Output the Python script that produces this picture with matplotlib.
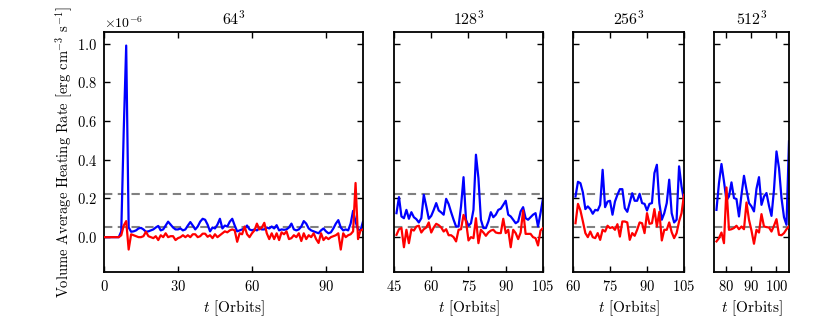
import numpy as np
import matplotlib
matplotlib.use("Agg")
import matplotlib.pyplot as plt

# heating rates in units of 1e-6 erg cm^-3 s^-1, sampled once per orbit
titles = ["$64^3$", "$128^3$", "$256^3$", "$512^3$"]
xlims = [(0, 105), (45, 105), (60, 105), (75, 105)]
xticks = [[0, 30, 60, 90], [45, 60, 75, 90, 105], [60, 75, 90, 105], [80, 90, 100]]
t_start = [0, 46, 61, 76]
ref_levels = [0.225, 0.05]

blue_64 = [0, 0, 0, 0, 0, 0, 0, 0.03, 0.55, 0.99,
           0.05, 0.028, 0.03, 0.035, 0.045, 0.048, 0.04, 0.028, 0.03, 0.035,
           0.04, 0.05, 0.058, 0.035, 0.04, 0.06, 0.08, 0.065, 0.05, 0.04,
           0.04, 0.045, 0.035, 0.04, 0.06, 0.078, 0.06, 0.04, 0.055, 0.08,
           0.095, 0.09, 0.065, 0.03, 0.05, 0.045, 0.065, 0.095, 0.045, 0.06,
           0.055, 0.08, 0.095, 0.06, 0.03, 0.035, 0.04, 0.045, 0.06, 0.04,
           0.035, 0.04, 0.035, 0.045, 0.04, 0.04, 0.05, 0.045, 0.055, 0.045,
           0.062, 0.035, 0.04, 0.038, 0.04, 0.05, 0.07, 0.04, 0.035, 0.04,
           0.055, 0.083, 0.07, 0.045, 0.035, 0.03, 0.025, 0.02, 0.035, 0.045,
           0.03, 0.02, 0.025, 0.045, 0.07, 0.088, 0.05, 0.035, 0.04, 0.035,
           0.07, 0.136, 0.08, 0.04, 0.035, 0.08]
red_64 = [0, 0, 0, 0, 0, 0, 0, 0.01, 0.06, 0.083,
          -0.064, 0.015, 0.01, 0.005, 0.0, 0.0, 0.005, 0.028, 0.005, 0.0,
          -0.005, 0.005, -0.015, 0.01, 0.0, 0.02, 0.0, 0.005, 0.005, -0.015,
          -0.005, 0.0, 0.01, 0.0, 0.01, 0.0, 0.015, 0.015, 0.0, 0.005,
          0.018, 0.018, 0.002, 0.01, -0.005, 0.015, 0.0, 0.01, 0.02, 0.03,
          0.025, 0.035, 0.04, 0.035, -0.024, 0.02, 0.015, 0.055, 0.015, 0.0,
          0.02, 0.035, 0.07, 0.04, 0.05, 0.074, 0.02, -0.01, 0.02, -0.01,
          0.02, -0.015, 0.025, 0.015, 0.03, -0.01, -0.005, 0.01, 0.0, 0.02,
          -0.02, 0.02, -0.01, 0.01, 0.0, 0.02, -0.01, -0.03, 0.02, -0.015,
          0.0, -0.01, 0.0, 0.005, 0.01, 0.02, -0.064, 0.02, 0.0, 0.01,
          0.015, 0.03, 0.28, -0.01, 0.035, 0.04]

blue_128 = [0.124, 0.207, 0.107, 0.098, 0.141, 0.095, 0.129, 0.103, 0.093, 0.076,
            0.098, 0.219, 0.159, 0.095, 0.110, 0.141, 0.176, 0.138, 0.128, 0.116,
            0.198, 0.171, 0.129, 0.09, 0.055, 0.055, 0.16, 0.31, 0.09, 0.059,
            0.072, 0.141, 0.426, 0.305, 0.09, 0.047, 0.047, 0.081, 0.129, 0.103,
            0.116, 0.141, 0.147, 0.167, 0.188, 0.116, 0.107, 0.09, 0.072, 0.081,
            0.133, 0.155, 0.098, 0.09, 0.103, 0.116, 0.124, 0.055, 0.124, 0.2]
red_128 = [0.012, 0.041, 0.047, -0.052, 0.038, -0.031, 0.041, 0.034, 0.055, 0.059,
           0.024, 0.041, 0.05, 0.076, 0.024, 0.05, 0.069, 0.062, 0.05, 0.029,
           0.041, 0.01, 0.01, 0.0, -0.022, 0.038, 0.041, 0.115, 0.081, -0.017,
           0.0, -0.005, 0.098, -0.031, 0.038, 0.024, 0.007, 0.024, 0.034, 0.038,
           0.024, 0.021, 0.021, 0.095, 0.021, 0.038, -0.052, 0.038, 0.021, -0.01,
           0.024, 0.138, 0.017, 0.017, 0.017, 0.0, -0.005, -0.043, 0.034, 0.047]

blue_256 = [0.21, 0.286, 0.279, 0.231, 0.145, 0.159, 0.145, 0.121, 0.141, 0.138,
            0.167, 0.348, 0.155, 0.184, 0.188, 0.116, 0.184, 0.219, 0.248, 0.248,
            0.15, 0.131, 0.179, 0.227, 0.188, 0.188, 0.224, 0.176, 0.172, 0.138,
            0.172, 0.176, 0.331, 0.374, 0.176, 0.09, 0.124, 0.176, 0.297, 0.124,
            0.076, 0.09, 0.366, 0.262, 0.19]
red_256 = [0.072, 0.172, 0.138, 0.081, 0.021, 0.0, 0.029, 0.0, -0.005, 0.021,
           -0.014, 0.038, 0.029, 0.059, 0.047, 0.052, 0.038, 0.067, 0.003, 0.081,
           0.081, 0.076, -0.014, 0.021, 0.007, 0.038, 0.076, 0.072, 0.021, 0.124,
           0.069, 0.072, 0.145, 0.055, 0.131, -0.017, 0.038, 0.038, 0.076, 0.026,
           -0.005, 0.021, 0.081, 0.124, 0.219]

blue_512 = [0.141, 0.279, 0.378, 0.288, 0.19, 0.21, 0.283, 0.202, 0.197, 0.107,
            0.219, 0.317, 0.245, 0.176, 0.159, 0.133, 0.25, 0.31, 0.167, 0.21,
            0.228, 0.162, 0.11, 0.245, 0.443, 0.357, 0.202, 0.103, 0.064, 0.495]
red_512 = [-0.022, -0.005, 0.024, -0.031, 0.257, 0.038, 0.041, 0.047, 0.059, 0.041,
           0.055, 0.041, 0.179, 0.09, 0.034, -0.034, 0.038, 0.024, 0.119, 0.055,
           0.052, 0.05, 0.029, 0.059, 0.093, 0.012, 0.01, 0.021, 0.041, 0.055]

blues = [blue_64, blue_128, blue_256, blue_512]
reds = [red_64, red_128, red_256, red_512]

plt.rcParams.update({
    "font.family": "serif",
    "font.serif": ["cmr10"],
    "mathtext.fontset": "cm",
    "axes.formatter.use_mathtext": True,
    "axes.unicode_minus": False,
    "font.size": 10,
})

fig = plt.figure(figsize=(8.3, 3.2), dpi=100)
lefts = [0.1253, 0.4747, 0.6904, 0.8602]
widths = [0.312, 0.1795, 0.1337, 0.0904]

for i in range(4):
    ax = fig.add_axes([lefts[i], 0.15, widths[i], 0.75])
    t = np.arange(len(blues[i])) + t_start[i]
    for lev in ref_levels:
        ax.axhline(lev * 1e-6, color="#808080", lw=1.5, ls="--", dashes=(4, 2.6), zorder=1)
    ax.plot(t, np.array(blues[i]) * 1e-6, color="#0000ff", lw=1.6, zorder=2)
    ax.plot(t, np.array(reds[i]) * 1e-6, color="#ff0000", lw=1.6, zorder=3)
    ax.set_xlim(*xlims[i])
    ax.set_ylim(-0.18e-6, 1.06e-6)
    ax.set_xticks(xticks[i])
    ax.set_yticks(np.arange(0, 1.01, 0.2) * 1e-6)
    ax.set_title(titles[i], fontsize=11.5, pad=5)
    ax.set_xlabel("$t$ [Orbits]", fontsize=11, labelpad=3)
    ax.tick_params(direction="in", top=True, right=True, length=4.5, width=1.0,
                   labelsize=10.5, pad=5)
    for sp in ax.spines.values():
        sp.set_linewidth(1.3)
    if i == 0:
        ax.set_ylabel("Volume Average Heating Rate [erg cm$^{-3}$ s$^{-1}$]",
                      fontsize=10.5, labelpad=1)
    else:
        ax.tick_params(labelleft=False)
        ax.yaxis.offsetText.set_visible(False)

fig.savefig("out.png", dpi=100)
